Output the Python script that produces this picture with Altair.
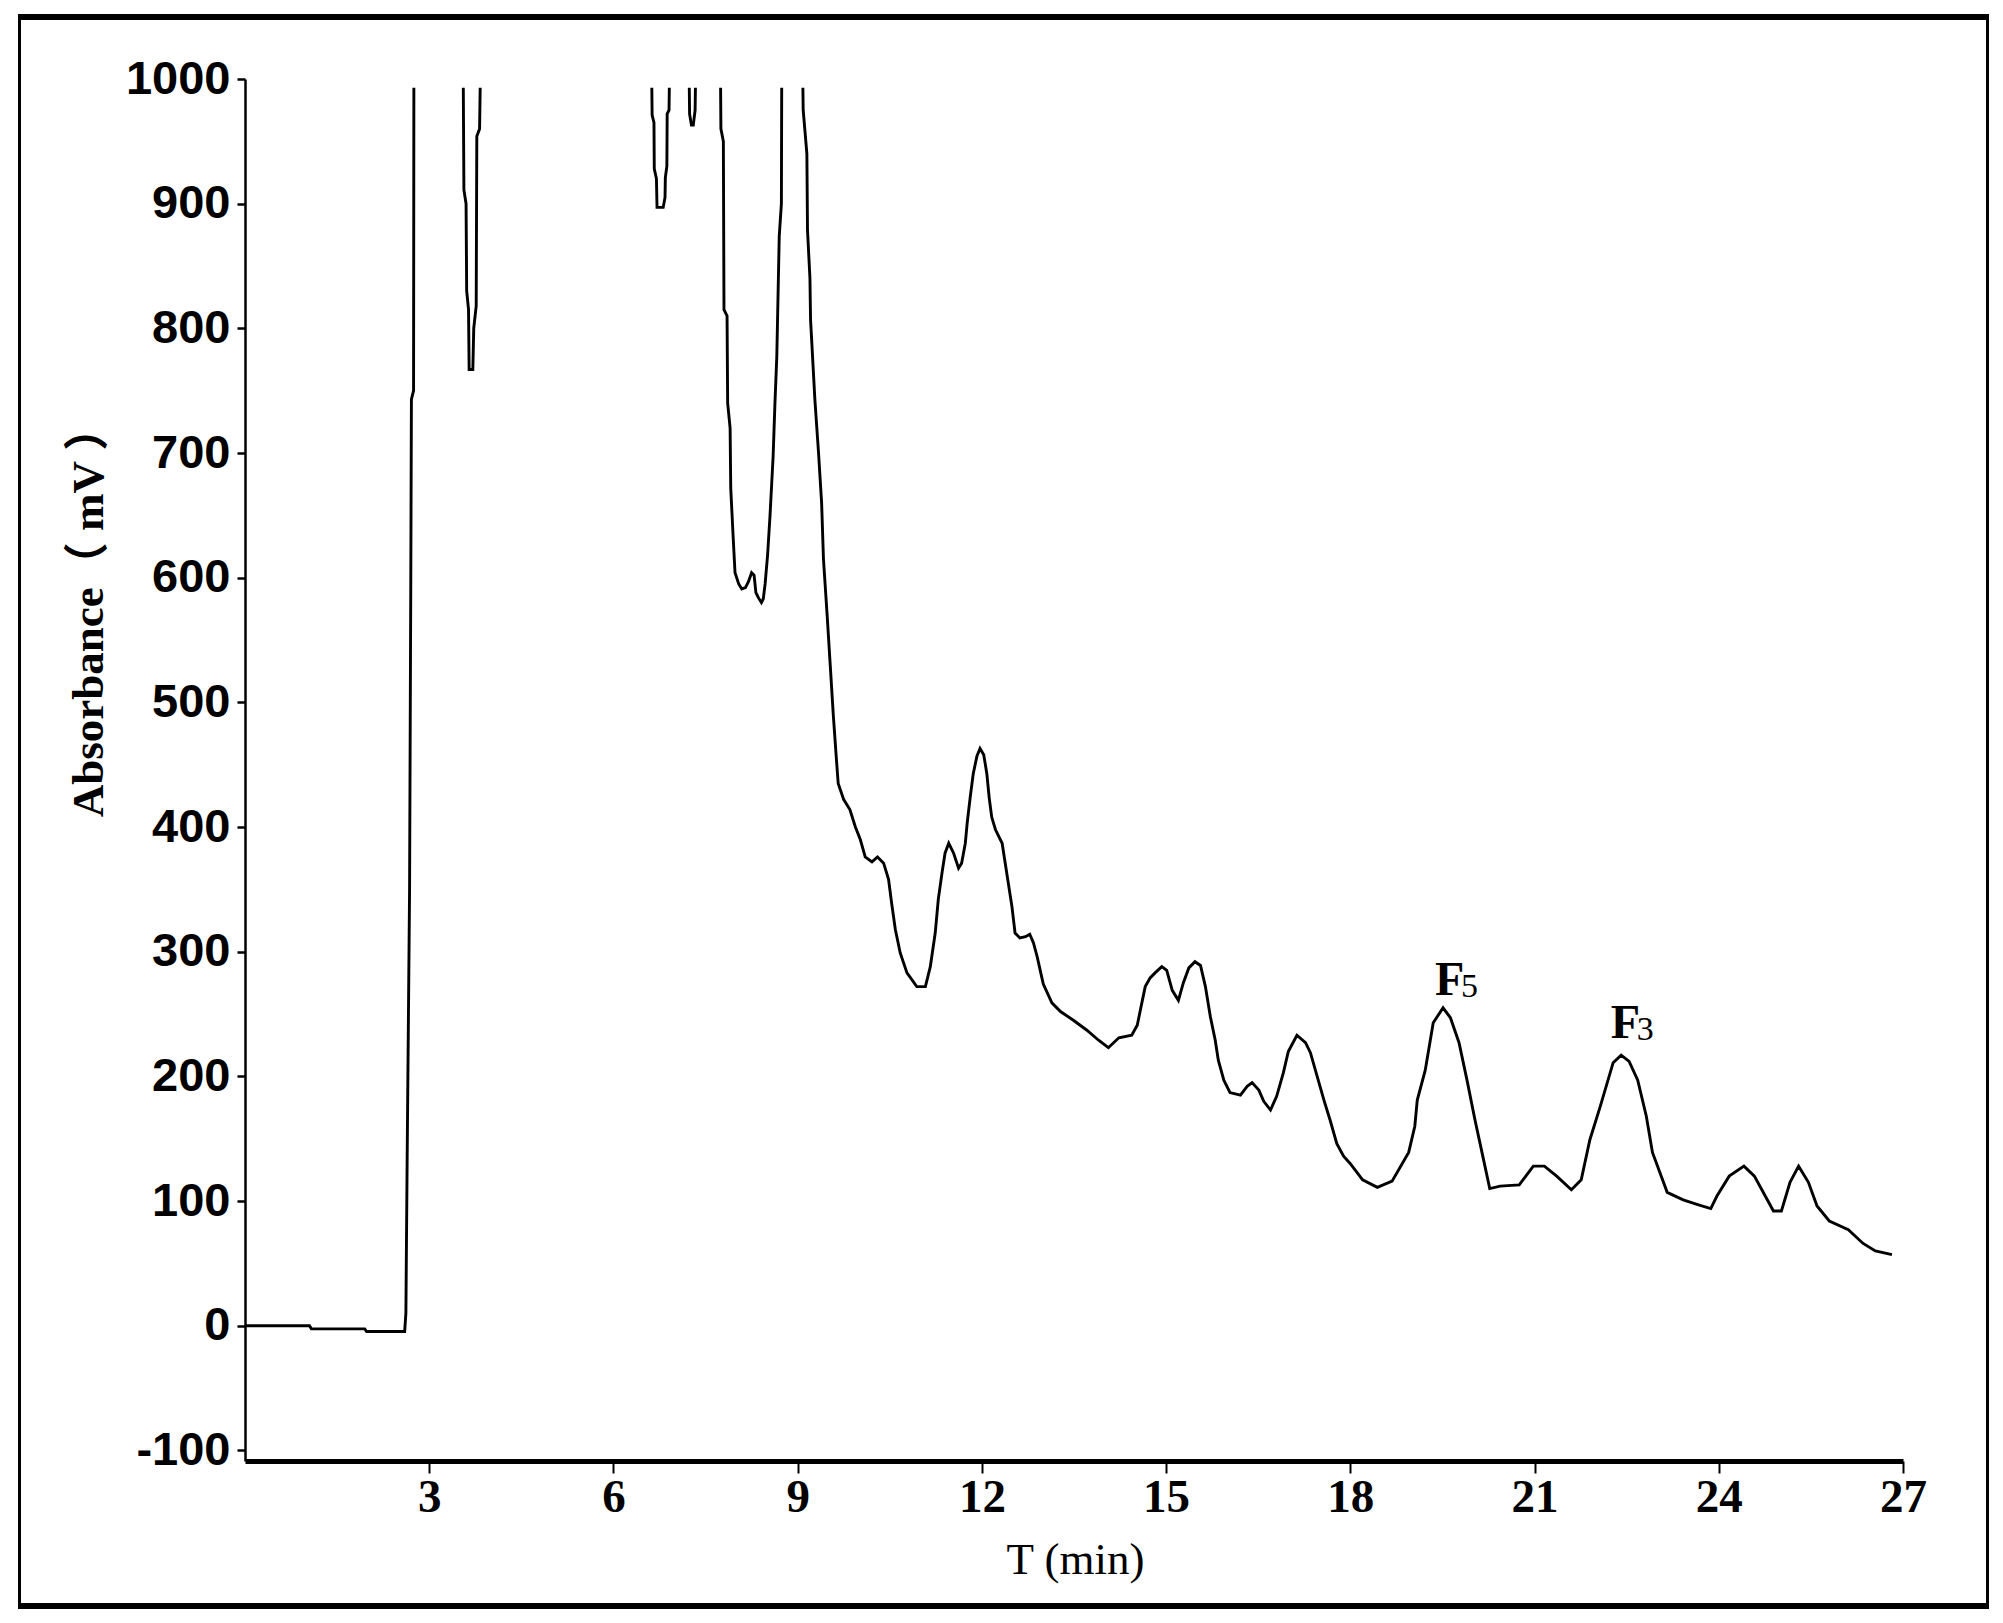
import altair as alt
import pandas as pd

# ---- chromatogram trace, split where the signal runs off the top of the scale ----
seg_a_time = [0.0, 1.05, 1.08, 1.95, 1.98, 2.60, 2.62, 2.64, 2.68, 2.70, 2.71, 2.745, 2.75]
seg_a_signal = [0, 0, -2.5, -2.5, -4.6, -4.6, 10, 130, 350, 600, 743, 750, 993]

seg_b_time = [3.555, 3.565, 3.60, 3.61, 3.64, 3.65, 3.71, 3.725, 3.765, 3.775, 3.82, 3.83]
seg_b_signal = [993, 911, 900, 830, 815, 767, 767, 800, 818, 954, 960, 993]

seg_c_time = [6.625, 6.63, 6.66, 6.665, 6.70, 6.71, 6.81, 6.84, 6.845, 6.87, 6.875, 6.905, 6.91]
seg_c_signal = [993, 971, 965, 928, 920, 897, 897, 905, 921, 930, 972, 975, 993]

seg_d_time = [7.235, 7.24, 7.27, 7.30, 7.33, 7.335]
seg_d_signal = [993, 972, 963, 963, 975, 993]

seg_e_time = [7.745, 7.75, 7.79, 7.80, 7.85, 7.86, 7.90, 7.91, 7.95, 7.98, 8.04, 8.09, 8.15,
              8.20, 8.25, 8.29, 8.32, 8.36, 8.41, 8.44, 8.47, 8.51, 8.55, 8.60, 8.63, 8.66,
              8.70, 8.735, 8.74]
seg_e_signal = [993, 960, 950, 815, 810, 740, 720, 672, 632, 604, 595, 591, 592,
                597, 604, 602, 588, 584, 580, 583, 595, 618, 650, 697, 740, 777,
                874, 900, 993]

seg_f_time = [9.085, 9.09, 9.15, 9.16, 9.20, 9.21, 9.28, 9.34, 9.39, 9.42, 9.48, 9.53, 9.58,
              9.63, 9.66, 9.75, 9.85, 9.94, 10.02, 10.10, 10.21, 10.30, 10.40, 10.48, 10.53,
              10.59, 10.67, 10.78, 10.94, 11.08, 11.16, 11.24, 11.29, 11.35, 11.40, 11.46,
              11.54, 11.62, 11.67, 11.73, 11.76, 11.81, 11.86, 11.92, 11.97, 12.03, 12.08,
              12.12, 12.16, 12.22, 12.33, 12.38, 12.43, 12.49, 12.54, 12.62, 12.71, 12.78,
              12.84, 12.90, 12.95, 13.00, 13.14, 13.28, 13.49, 13.71, 13.90, 14.06, 14.23,
              14.44, 14.53, 14.58, 14.66, 14.74, 14.82, 14.93, 15.01, 15.10, 15.20, 15.28,
              15.37, 15.47, 15.56, 15.64, 15.72, 15.80, 15.85, 15.94, 16.04, 16.21, 16.32,
              16.40, 16.51, 16.59, 16.70, 16.80, 16.91, 16.99, 17.13, 17.27, 17.35, 17.46,
              17.57, 17.67, 17.78, 17.89, 18.00, 18.20, 18.44, 18.68, 18.95, 19.05, 19.09,
              19.22, 19.35, 19.51, 19.63, 19.77, 19.90, 20.03, 20.17, 20.27, 20.44, 20.75,
              20.98, 21.16, 21.36, 21.60, 21.76, 21.90, 22.07, 22.28, 22.41, 22.54, 22.68,
              22.82, 22.92, 23.16, 23.42, 23.67, 23.87, 23.97, 24.17, 24.41, 24.58, 24.79,
              24.89, 25.02, 25.16, 25.30, 25.46, 25.60, 25.80, 26.11, 26.35, 26.55, 26.82]
seg_f_signal = [993, 975, 940, 879, 840, 807, 743, 700, 660, 615, 570, 530, 490,
                455, 435, 422, 414, 400, 390, 376, 372, 376, 371, 358, 339,
                318, 299, 283, 272, 272, 288, 315, 342, 363, 379, 387,
                379, 367, 371, 387, 403, 424, 443, 457, 463, 458, 443,
                423, 408, 398, 387, 371, 355, 336, 315, 311, 312, 314,
                307, 296, 285, 274, 259, 252, 245, 237, 229, 223, 231,
                233, 241, 253, 272, 279, 283, 288, 285, 269, 261, 275,
                287, 292, 289, 272, 248, 229, 213, 197, 187, 185, 192,
                195, 189, 180, 173, 184, 203, 220, 233, 227, 219, 200,
                181, 165, 146, 136, 130, 117, 111, 116, 139, 160, 181,
                205, 243, 255, 247, 227, 197, 165, 133, 110, 112, 113,
                128, 128, 120, 109, 117, 149, 176, 211, 217, 212, 197,
                168, 139, 107, 101, 97, 94, 104, 120, 128, 120, 101,
                92, 92, 115, 128, 115, 96, 84, 77, 66, 60, 57]

# ---- axis ticks ----
x_tick_values = [3, 6, 9, 12, 15, 18, 21, 24, 27]
y_tick_values = [-100, 0, 100, 200, 300, 400, 500, 600, 700, 800, 900, 1000]

# ---- peak annotations ----
peak_label_time = [19.38, 22.24]
peak_label_signal = [265, 231]
peak_label_letter = ["F", "F"]
peak_label_digit = ["5", "3"]

segments = [
    ("a", seg_a_time, seg_a_signal),
    ("b", seg_b_time, seg_b_signal),
    ("c", seg_c_time, seg_c_signal),
    ("d", seg_d_time, seg_d_signal),
    ("e", seg_e_time, seg_e_signal),
    ("f", seg_f_time, seg_f_signal),
]
rows = []
for name, ts, vs in segments:
    for i, (t, v) in enumerate(zip(ts, vs)):
        rows.append({"segment": name, "idx": i, "time": t, "signal": v})
trace = pd.DataFrame(rows)

labels = pd.DataFrame({
    "time": peak_label_time,
    "signal": peak_label_signal,
    "letter": peak_label_letter,
    "digit": peak_label_digit,
})

W, H = 1658, 1382
x_scale = alt.Scale(domain=[0, 27], nice=False, zero=False)
y_scale = alt.Scale(domain=[-108.5, 1000], nice=False, zero=False)

x_axis = alt.Axis(
    values=x_tick_values, title="T (min)", grid=False,
    labelExpr="'' + datum.value",
    domainColor="black", domainWidth=5, tickColor="black", tickWidth=2, tickSize=12,
    labelFont="Liberation Serif", labelFontWeight="bold", labelFontSize=47, labelColor="black",
    labelPadding=1, labelFlush=False, labelOverlap=False,
    titleFont="Liberation Serif", titleFontSize=45, titleFontWeight="normal", titleColor="black",
    titleX=830, titleY=112, titleAlign="center", titleBaseline="alphabetic",
)
y_axis = alt.Axis(
    values=y_tick_values, title="Absorbance（ mV ）", grid=False,
    labelExpr="'' + datum.value",
    domainColor="black", domainWidth=2.5, tickColor="black", tickWidth=2.5, tickSize=8,
    labelFont="Liberation Sans Narrow, Liberation Sans", labelFontWeight="bold", labelFontSize=47,
    labelColor="black", labelPadding=7, labelFlush=False, labelOverlap=False,
    titleFont="Liberation Serif, Noto Sans CJK SC", titleFontSize=45, titleFontWeight="bold",
    titleColor="black", titleAngle=270, titleX=-143, titleY=532, titleAlign="center",
    titleBaseline="alphabetic",
)

line = alt.Chart(trace).mark_line(color="black", strokeWidth=2.9).encode(
    x=alt.X("time:Q", scale=x_scale, axis=x_axis),
    y=alt.Y("signal:Q", scale=y_scale, axis=y_axis),
    detail="segment:N",
    order="idx:Q",
)

letters = alt.Chart(labels).mark_text(
    font="Liberation Serif", fontSize=48, fontWeight="bold", align="left",
    baseline="alphabetic", color="black",
).encode(
    x=alt.X("time:Q", scale=x_scale),
    y=alt.Y("signal:Q", scale=y_scale),
    text="letter:N",
)

digits = alt.Chart(labels).mark_text(
    font="Liberation Serif", fontSize=34, align="left", baseline="alphabetic",
    color="black", dx=26, dy=2,
).encode(
    x=alt.X("time:Q", scale=x_scale),
    y=alt.Y("signal:Q", scale=y_scale),
    text="digit:N",
)

dummy = pd.DataFrame({"k": [0]})


def frame_piece(x1, x2, y1, y2):
    return alt.Chart(dummy).mark_rect(color="black").encode(
        x=alt.value(x1), x2=alt.value(x2), y=alt.value(y1), y2=alt.value(y2)
    )


frame = [
    frame_piece(-227, 1744, -65, -59),
    frame_piece(-227, 1744, 1524, 1530),
    frame_piece(-227, -224, -65, 1530),
    frame_piece(1741, 1744, -65, 1530),
]

chart = alt.layer(line, letters, digits, *frame).properties(
    width=W, height=H,
    background="white",
    autosize=alt.AutoSizeParams(type="none"),
    padding={"left": 237, "top": 71, "right": 92, "bottom": 150},
).configure_view(stroke="transparent", strokeWidth=0).configure_axis(grid=False)

chart.save("out.html", embed_options={"renderer": "svg", "actions": False})
